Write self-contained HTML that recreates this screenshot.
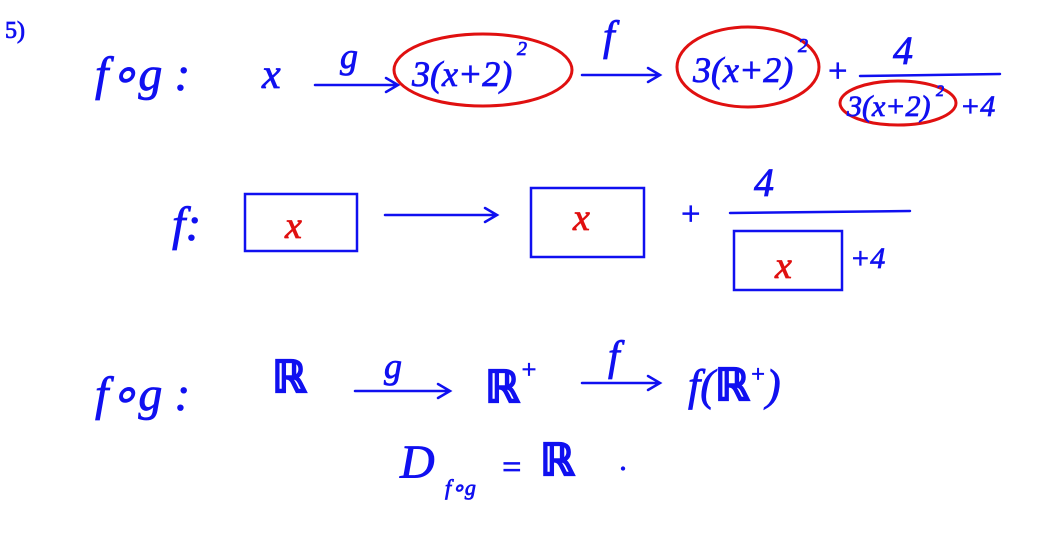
<!DOCTYPE html>
<html><head><meta charset="utf-8"><style>
html,body{margin:0;padding:0;background:#fff;width:1063px;height:556px;overflow:hidden}
svg{display:block}
text{font-family:"Liberation Serif",serif;font-style:italic;fill:#1010f0;stroke:#1010f0;stroke-width:0.8}
.r{fill:#e01010;stroke:#e01010}
</style></head><body>
<svg width="1063" height="556" viewBox="0 0 1063 556" xmlns="http://www.w3.org/2000/svg">
<g stroke="#1010f0" stroke-width="2.5" fill="none" stroke-linecap="round">
<path d="M315 85 L398 85 M386 78 L398 85 L386 92"/>
<path d="M582 75 L660 75 M648 68 L660 75 L648 82"/>
<path d="M860 76 L1000 74"/>
<rect x="245" y="194" width="112" height="57"/>
<path d="M385 215 L497 215 M485 208 L497 215 L485 222"/>
<rect x="531" y="188" width="113" height="69"/>
<path d="M730 213 L910 211"/>
<rect x="734" y="231" width="108" height="59"/>
<path d="M355 391 L450 391 M438 384 L450 391 L438 398"/>
<path d="M582 383 L660 383 M648 376 L660 383 L648 390"/>
</g>
<g stroke="#e01010" stroke-width="3" fill="none">
<ellipse cx="483" cy="70" rx="89" ry="36"/>
<ellipse cx="748" cy="67" rx="71" ry="40"/>
<ellipse cx="898" cy="103" rx="58" ry="22"/>
</g>
<text x="5" y="38" font-size="24" style="font-style:normal">5)</text>
<text x="95" y="90" font-size="48">f∘g :</text>
<text x="262" y="88" font-size="42">x</text>
<text x="340" y="68" font-size="36">g</text>
<text x="412" y="86" font-size="36">3(x+2)</text>
<text x="517" y="55" font-size="20">2</text>
<text x="603" y="50" font-size="42">f</text>
<text x="693" y="82" font-size="36">3(x+2)</text>
<text x="798" y="52" font-size="20">2</text>
<text x="826" y="82" font-size="34">+</text>
<text x="893" y="64" font-size="40">4</text>
<text x="847" y="116" font-size="30">3(x+2)</text>
<text x="936" y="96" font-size="16">2</text>
<text x="960" y="116" font-size="30">+4</text>

<text x="172" y="240" font-size="48">f:</text>
<text class="r" x="285" y="238" font-size="38">x</text>
<text class="r" x="573" y="230" font-size="38">x</text>
<text x="679" y="225" font-size="34">+</text>
<text x="754" y="196" font-size="40">4</text>
<text class="r" x="775" y="278" font-size="38">x</text>
<text x="850" y="268" font-size="30">+4</text>

<text x="95" y="410" font-size="48">f∘g :</text>
<text x="272" y="392" font-size="44" style="font-style:normal;font-weight:bold">ℝ</text>
<text x="384" y="378" font-size="36">g</text>
<text x="485" y="402" font-size="44" style="font-style:normal;font-weight:bold">ℝ</text>
<text x="520" y="378" font-size="26">+</text>
<text x="608" y="370" font-size="42">f</text>
<text x="688" y="400" font-size="44">f(<tspan style="font-style:normal;font-weight:bold">ℝ</tspan><tspan font-size="24" dy="-18">+</tspan><tspan dy="18">)</tspan></text>
<text x="400" y="478" font-size="48">D</text>
<text x="445" y="495" font-size="22">f∘g</text>
<text x="500" y="478" font-size="34">=</text>
<text x="540" y="475" font-size="44" style="font-style:normal;font-weight:bold">ℝ</text>
<text x="620" y="470" font-size="30">.</text>
</svg>
</body></html>
